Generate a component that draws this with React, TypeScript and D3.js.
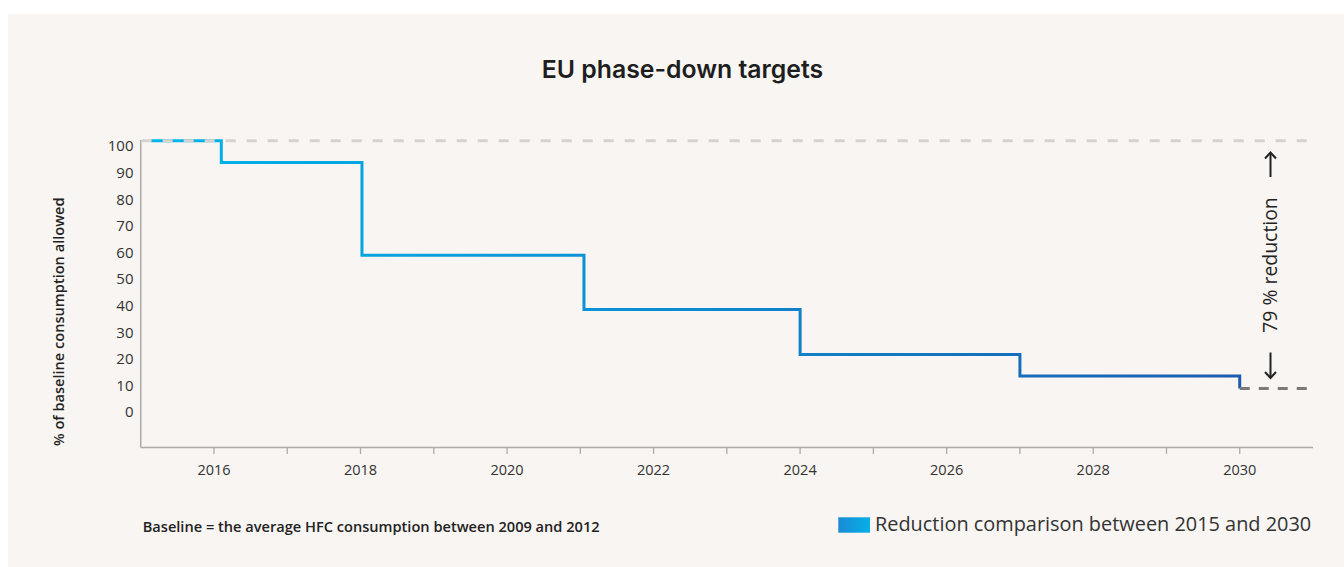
import React from "react";
import * as d3 from "d3";

const W = 1344;
const H = 567;

// Step-down data (year the level starts, % of baseline allowed)
const stepYears = [2015.14, 2016.1, 2018.02, 2021.05, 2024, 2027, 2030];
const stepValues = [100, 93, 63, 45.5, 31, 24, 20];

// Axis tick labels (as printed)
const yTickLabels = [0, 10, 20, 30, 40, 50, 60, 70, 80, 90, 100];
const xTickYears = [2016, 2017, 2018, 2019, 2020, 2021, 2022, 2023, 2024, 2025, 2026, 2027, 2028, 2029, 2030];

const title = "EU phase-down targets";
const yTitle = "% of baseline consumption allowed";
const footnote = "Baseline = the average HFC consumption between 2009 and 2012";
const legendLabel = "Reduction comparison between 2015 and 2030";
const annotation = "79 % reduction";

export default function App() {
  const plotLeft = 140.7;
  const plotRight = 1313;
  const plotBottom = 447.5;

  const x = d3.scaleLinear().domain([2015, 2031]).range([plotLeft, plotRight]);
  const y = d3.scaleLinear().domain([0, 100]).range([450.4, 140.7]);
  // printed tick labels sit on their own scale in the original
  const yLab = d3.scaleLinear().domain([0, 100]).range([413.3, 147.3]);

  const pts: [number, number][] = stepYears.map((yr, i) => [yr, stepValues[i]]);
  const line = d3
    .line<[number, number]>()
    .x((d) => x(d[0]))
    .y((d) => y(d[1]))
    .curve(d3.curveStepAfter);

  const lastVal = stepValues[stepValues.length - 1];
  const font = "'Open Sans', 'DejaVu Sans', sans-serif";
  const annX = 1270.5;

  const upTip = 152;
  const upTail = 177;
  const downTip = 378.5;
  const downTail = 352.5;

  return (
    <svg
      width={W}
      height={H}
      style={{ position: "absolute", left: 0, top: 0 }}
      fontFamily={font}
    >
      <defs>
        <linearGradient id="lineGrad" gradientUnits="userSpaceOnUse" x1={x(2015)} x2={x(2030)} y1={0} y2={0}>
          <stop offset="0%" stopColor="#00b6ec" />
          <stop offset="45%" stopColor="#0a8fd3" />
          <stop offset="100%" stopColor="#1c5bb0" />
        </linearGradient>
        <linearGradient id="legGrad" x1="0" x2="1" y1="0" y2="0">
          <stop offset="0%" stopColor="#1a8bd5" />
          <stop offset="100%" stopColor="#05b0e8" />
        </linearGradient>
      </defs>
      <rect x={0} y={0} width={W} height={H} fill="#ffffff" />
      <rect x={8} y={14} width={W - 8} height={H - 14} fill="#f8f5f2" />

      {/* title */}
      <text x={682.5} y={78} textAnchor="middle" fontFamily="Inter, 'Open Sans', sans-serif" fontWeight={600} fontSize={24.8} fill="#1e1e1e">
        {title}
      </text>

      {/* y axis title */}
      <text
        transform={`translate(60,${321.7}) rotate(-90)`}
        textAnchor="middle"
        dominantBaseline="middle"
        fontWeight={600}
        fontSize={14.6}
        fill="#222"
      >
        {yTitle}
      </text>

      {/* y tick labels */}
      {yTickLabels.map((v) => (
        <text key={v} x={133.5} y={yLab(v)} textAnchor="end" dominantBaseline="middle" fontSize={15} fill="#333">
          {v}
        </text>
      ))}

      {/* axes */}
      <line x1={plotLeft} x2={plotLeft} y1={140} y2={plotBottom} stroke="#acacac" strokeWidth={1.5} />
      <line x1={plotLeft} x2={plotRight} y1={plotBottom} y2={plotBottom} stroke="#acacac" strokeWidth={1.5} />
      {xTickYears.map((yr) => (
        <g key={yr}>
          <line x1={x(yr)} x2={x(yr)} y1={plotBottom} y2={plotBottom + 6.5} stroke="#acacac" strokeWidth={1.3} />
          {yr % 2 === 0 && (
            <text x={x(yr)} y={471} textAnchor="middle" dominantBaseline="middle" fontSize={14.5} fill="#333">
              {yr}
            </text>
          )}
        </g>
      ))}

      {/* step line */}
      <path d={line(pts) || ""} fill="none" stroke="url(#lineGrad)" strokeWidth={3} strokeLinejoin="miter" />

      {/* baseline 100 dashed */}
      <line
        x1={plotLeft + 1}
        x2={plotRight}
        y1={y(100)}
        y2={y(100)}
        stroke="#d6d2cd"
        strokeWidth={3}
        strokeDasharray="10 11"
      />
      {/* 2030 dashed level */}
      <line
        x1={x(2030)}
        x2={plotRight}
        y1={y(lastVal)}
        y2={y(lastVal)}
        stroke="#7a7a7a"
        strokeWidth={3}
        strokeDasharray="10 9"
      />

      {/* annotation arrows */}
      <g stroke="#222" strokeWidth={2} fill="none" strokeLinecap="butt">
        <line x1={annX} x2={annX} y1={upTail} y2={upTip + 1} />
        <path d={`M${annX - 5.5},${upTip + 6.5} L${annX},${upTip + 0.5} L${annX + 5.5},${upTip + 6.5}`} />
        <line x1={annX} x2={annX} y1={downTail} y2={downTip - 1} />
        <path d={`M${annX - 5.5},${downTip - 6.5} L${annX},${downTip - 0.5} L${annX + 5.5},${downTip - 6.5}`} />
      </g>
      <text
        transform={`translate(${annX + 1.5},${265}) rotate(-90)`}
        textAnchor="middle"
        dominantBaseline="middle"
        fontSize={19.4}
        fontWeight={500}
        fill="#222"
      >
        {annotation}
      </text>

      {/* footnote */}
      <text x={142.7} y={528} dominantBaseline="middle" fontWeight={600} fontSize={14.6} fill="#222">
        {footnote}
      </text>

      {/* legend */}
      <rect x={838.3} y={517.3} width={31.7} height={15.4} fill="url(#legGrad)" />
      <text x={875} y={525.5} dominantBaseline="middle" fontSize={19.9} fill="#333">
        {legendLabel}
      </text>
    </svg>
  );
}
